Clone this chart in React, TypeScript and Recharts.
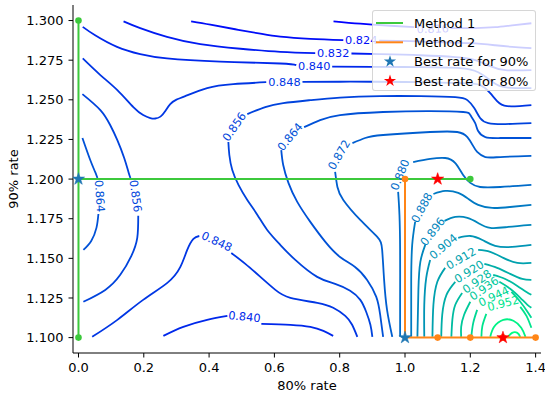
import { ComposedChart, Line, Scatter, XAxis, YAxis } from "recharts";

const X_DOMAIN = [-0.0168, 1.4165];
const Y_DOMAIN = [1.0903, 1.3098];
const X_TICKS = [0, 0.2, 0.4, 0.6, 0.8, 1.0, 1.2, 1.4];
const Y_TICKS = [1.1, 1.125, 1.15, 1.175, 1.2, 1.225, 1.25, 1.275, 1.3];
const LEVEL_MIN = 0.816;
const LEVEL_MAX = 0.968;

// contour pieces, [80% rate, 90% rate];
// a level is split where the label cuts its line
const c816 = [
  [[0.781, 1.2995], [0.863, 1.298], [0.955, 1.2967], [1.028, 1.2958]],
  [[1.139, 1.2952], [1.215, 1.2952], [1.276, 1.2958], [1.328, 1.297], [1.387, 1.2983]],
];
const c824 = [
  [[0.345, 1.2995], [0.404, 1.2974], [0.48, 1.2945], [0.557, 1.2917], [0.618, 1.2898], [0.71, 1.2884], [0.811, 1.2876]],
  [[0.921, 1.2873], [1.016, 1.287], [1.108, 1.2863], [1.2, 1.2857], [1.276, 1.2844], [1.338, 1.2832], [1.387, 1.2826]],
];
const c832 = [
  [[0.138, 1.2995], [0.189, 1.2952], [0.271, 1.2897], [0.373, 1.2851], [0.496, 1.2822], [0.618, 1.2802], [0.725, 1.2794]],
  [[0.836, 1.2792], [0.924, 1.2788], [1.047, 1.2781], [1.154, 1.2769], [1.215, 1.275], [1.261, 1.2712], [1.307, 1.2687], [1.387, 1.2687]],
];
const c840 = [
  [[0.013, 1.296], [0.051, 1.2907], [0.118, 1.2834], [0.189, 1.2788], [0.271, 1.2761], [0.434, 1.2741], [0.618, 1.2729], [0.667, 1.2719]],
  [[0.777, 1.2709], [0.9, 1.2708], [1.047, 1.2706], [1.169, 1.27], [1.224, 1.2674], [1.261, 1.2624], [1.292, 1.2586], [1.338, 1.2574], [1.387, 1.2574]],
  [[0.26, 1.1011], [0.321, 1.1068], [0.394, 1.1112], [0.456, 1.1137]],
  [[0.56, 1.1087], [0.649, 1.1081], [0.71, 1.1068], [0.75, 1.1043], [0.78, 1.1011]],
];
const c848 = [
  [[0.013, 1.2761], [0.067, 1.2656], [0.119, 1.2561], [0.168, 1.2454], [0.198, 1.2404], [0.22, 1.2385], [0.235, 1.2382], [0.251, 1.2394], [0.266, 1.2429], [0.281, 1.2473], [0.3, 1.2501], [0.327, 1.2523], [0.394, 1.2574], [0.474, 1.2599], [0.575, 1.2611]],
  [[0.686, 1.2613], [0.801, 1.2614], [0.9, 1.2614], [1.047, 1.2611], [1.169, 1.2605], [1.23, 1.2593], [1.261, 1.2542], [1.282, 1.2492], [1.313, 1.246], [1.387, 1.2467]],
  [[0.042, 1.1005], [0.119, 1.1112], [0.198, 1.1238], [0.272, 1.1345], [0.312, 1.1446], [0.333, 1.1553], [0.352, 1.1623], [0.37, 1.1641]],
  [[0.468, 1.1534], [0.511, 1.1465], [0.557, 1.1383], [0.603, 1.1301], [0.649, 1.1251], [0.731, 1.1219], [0.78, 1.1188], [0.817, 1.1137], [0.838, 1.1081], [0.854, 1.1005]],
];
const c856 = [
  [[0.012, 1.2536], [0.067, 1.2435], [0.097, 1.2341], [0.119, 1.2246], [0.14, 1.2133], [0.153, 1.2045], [0.159, 1.2007]],
  [[0.183, 1.1768], [0.18, 1.1629], [0.162, 1.1516], [0.128, 1.1396], [0.082, 1.1301], [0.015, 1.1226]],
  [[0.459, 1.2234], [0.462, 1.2152], [0.471, 1.2057], [0.49, 1.1963], [0.517, 1.1868], [0.548, 1.1774], [0.578, 1.1679], [0.618, 1.1585], [0.664, 1.149], [0.731, 1.1383], [0.786, 1.1339], [0.832, 1.1295], [0.863, 1.1238], [0.881, 1.1163], [0.894, 1.1081], [0.9, 1.1005]],
  [[0.517, 1.241], [0.572, 1.2454], [0.627, 1.2479], [0.71, 1.2498], [0.801, 1.2514], [0.924, 1.2523], [1.047, 1.2523], [1.154, 1.2517], [1.191, 1.2498], [1.212, 1.2448], [1.23, 1.2385], [1.255, 1.2353], [1.307, 1.2347], [1.387, 1.2353]],
];
const c864 = [
  [[0.012, 1.2259], [0.036, 1.212], [0.051, 1.2045], [0.058, 1.2007]],
  [[0.061, 1.178], [0.055, 1.1692], [0.039, 1.161], [0.015, 1.1553]],
  [[0.691, 1.2328], [0.74, 1.2372], [0.801, 1.2404], [0.933, 1.2423], [1.077, 1.2429], [1.178, 1.2423], [1.2, 1.2404], [1.215, 1.2353], [1.224, 1.2303], [1.246, 1.2265], [1.292, 1.2259], [1.387, 1.2259]],
  [[0.621, 1.2183], [0.627, 1.2089], [0.643, 1.1976], [0.67, 1.1856], [0.71, 1.173], [0.756, 1.1604], [0.801, 1.1509], [0.847, 1.1446], [0.884, 1.1364], [0.912, 1.1257], [0.924, 1.1144], [0.933, 1.1005]],
];
const c872 = [
  [[0.839, 1.2227], [0.878, 1.2259], [0.933, 1.2278], [1.077, 1.2297], [1.16, 1.2297], [1.191, 1.2265], [1.209, 1.2208], [1.221, 1.2171], [1.246, 1.2139], [1.292, 1.2139], [1.387, 1.2146]],
  [[0.786, 1.2045], [0.793, 1.195], [0.811, 1.1868], [0.863, 1.1742], [0.915, 1.1635], [0.93, 1.1553], [0.936, 1.1364], [0.945, 1.1175], [0.961, 1.1005]],
];
const c880 = [
  [[1.025, 1.2107], [1.077, 1.2127], [1.123, 1.2133], [1.154, 1.2101], [1.178, 1.2026], [1.2, 1.1976], [1.23, 1.195], [1.292, 1.195], [1.387, 1.1963]],
  [[0.979, 1.1919], [0.983, 1.1774], [0.985, 1.1553], [0.985, 1.1238], [0.985, 1.1005]],
];
const c888 = [
  [[1.087, 1.1906], [1.123, 1.1925], [1.163, 1.1913], [1.194, 1.1875], [1.224, 1.1837], [1.267, 1.1818], [1.322, 1.1824], [1.387, 1.1837]],
  [[1.031, 1.173], [1.022, 1.1585], [1.019, 1.1364], [1.019, 1.1005]],
];
const c896 = [
  [[1.121, 1.1736], [1.154, 1.1761], [1.191, 1.1755], [1.224, 1.1723], [1.261, 1.1692], [1.316, 1.1698], [1.387, 1.1711]],
  [[1.062, 1.1585], [1.047, 1.1478], [1.041, 1.1301], [1.038, 1.1005]],
];
const c904 = [
  [[1.163, 1.1629], [1.2, 1.1641], [1.237, 1.1616], [1.276, 1.1579], [1.328, 1.1572], [1.387, 1.1585]],
  [[1.077, 1.149], [1.065, 1.1377], [1.059, 1.1207], [1.059, 1.1005]],
];
const c912 = [
  [[1.224, 1.1553], [1.261, 1.1541], [1.301, 1.1503], [1.344, 1.1471], [1.387, 1.1471]],
  [[1.123, 1.144], [1.099, 1.1352], [1.087, 1.1207], [1.084, 1.1005]],
];
const c920 = [
  [[1.243, 1.1465], [1.282, 1.144], [1.322, 1.1402], [1.359, 1.137], [1.387, 1.1364]],
  [[1.154, 1.1352], [1.127, 1.127], [1.114, 1.1144], [1.111, 1.1005]],
];
const c928 = [
  [[1.27, 1.1396], [1.307, 1.137], [1.344, 1.1326], [1.372, 1.1288], [1.387, 1.127]],
  [[1.175, 1.1282], [1.154, 1.1207], [1.145, 1.1112], [1.142, 1.1005]],
];
const c936 = [
  [[1.289, 1.1352], [1.322, 1.1308], [1.353, 1.1251], [1.375, 1.1207], [1.387, 1.1188]],
  [[1.2, 1.1226], [1.181, 1.1144], [1.172, 1.1068], [1.172, 1.1005]],
];
const c944 = [
  [[1.326, 1.1288], [1.353, 1.1226], [1.375, 1.1163], [1.387, 1.1125]],
  [[1.221, 1.1175], [1.209, 1.1093], [1.203, 1.1005]],
];
const c952 = [
  [[1.353, 1.1194], [1.372, 1.1137], [1.387, 1.1062]],
  [[1.249, 1.115], [1.237, 1.1074], [1.234, 1.1005]],
];
const c960 = [
  [[1.261, 1.1005], [1.273, 1.1068], [1.301, 1.1112], [1.332, 1.1106], [1.356, 1.1062], [1.369, 1.1005]],
];
const c968 = [
  [[1.316, 1.1005], [1.328, 1.103], [1.344, 1.103], [1.353, 1.1005]],
];

const contours = [
  { level: 0.816, segs: c816 }, { level: 0.824, segs: c824 }, { level: 0.832, segs: c832 },
  { level: 0.84, segs: c840 }, { level: 0.848, segs: c848 }, { level: 0.856, segs: c856 },
  { level: 0.864, segs: c864 }, { level: 0.872, segs: c872 }, { level: 0.88, segs: c880 },
  { level: 0.888, segs: c888 }, { level: 0.896, segs: c896 }, { level: 0.904, segs: c904 },
  { level: 0.912, segs: c912 }, { level: 0.92, segs: c920 }, { level: 0.928, segs: c928 },
  { level: 0.936, segs: c936 }, { level: 0.944, segs: c944 }, { level: 0.952, segs: c952 },
  { level: 0.96, segs: c960 }, { level: 0.968, segs: c968 },
];

// inline contour labels: position, level, rotation
const contourLabels = [
  { x: 1.085, y: 1.2945, level: 0.816, angle: -2 },
  { x: 0.866, y: 1.2873, level: 0.824, angle: 0 },
  { x: 0.78, y: 1.2792, level: 0.832, angle: 0 },
  { x: 0.722, y: 1.2712, level: 0.84, angle: 0 },
  { x: 0.508, y: 1.1129, level: 0.84, angle: 6 },
  { x: 0.631, y: 1.2611, level: 0.848, angle: 0 },
  { x: 0.423, y: 1.1604, level: 0.848, angle: 25 },
  { x: 0.174, y: 1.1893, level: 0.856, angle: 82 },
  { x: 0.478, y: 1.2328, level: 0.856, angle: -55 },
  { x: 0.064, y: 1.1893, level: 0.864, angle: 86 },
  { x: 0.649, y: 1.2265, level: 0.864, angle: -50 },
  { x: 0.799, y: 1.2152, level: 0.872, angle: -60 },
  { x: 0.986, y: 1.2026, level: 0.88, angle: -68 },
  { x: 1.053, y: 1.1818, level: 0.888, angle: -62 },
  { x: 1.086, y: 1.1667, level: 0.896, angle: -52 },
  { x: 1.118, y: 1.1572, level: 0.904, angle: -40 },
  { x: 1.172, y: 1.1497, level: 0.912, angle: -30 },
  { x: 1.197, y: 1.1414, level: 0.92, angle: -32 },
  { x: 1.221, y: 1.1352, level: 0.928, angle: -35 },
  { x: 1.243, y: 1.1308, level: 0.936, angle: -35 },
  { x: 1.272, y: 1.1257, level: 0.944, angle: -25 },
  { x: 1.301, y: 1.1213, level: 0.952, angle: -14 },
];

const method1V = [{ x: 0, y: 1.1 }, { x: 0, y: 1.2 }, { x: 0, y: 1.3 }];
const method1H = [{ x: 0, y: 1.2 }, { x: 1.2, y: 1.2 }];
const method1Dots = [{ x: 0, y: 1.1 }, { x: 0, y: 1.3 }, { x: 1.2, y: 1.2 }];
const method2V = [{ x: 1.0, y: 1.1 }, { x: 1.0, y: 1.2 }];
const method2H = [{ x: 1.0, y: 1.1 }, { x: 1.4, y: 1.1 }];
const method2Dots = [{ x: 1.0, y: 1.2 }, { x: 1.1, y: 1.1 }, { x: 1.2, y: 1.1 }, { x: 1.3, y: 1.1 }, { x: 1.4, y: 1.1 }];
const best90 = [{ x: 0, y: 1.2 }, { x: 1.0, y: 1.1 }];
const best80 = [{ x: 1.1, y: 1.2 }, { x: 1.3, y: 1.1 }];

const GREEN = "#3cc93c";
const ORANGE = "#ff8517";
const BLUE = "#1f77b4";
const RED = "#ff0000";
const FONT = "DejaVu Sans, sans-serif";

// matplotlib "winter": blue -> spring green
function winter(level: number) {
  const t = (level - LEVEL_MIN) / (LEVEL_MAX - LEVEL_MIN);
  return `rgb(0, ${Math.round(255 * t)}, ${Math.round(255 - 127.5 * t)})`;
}

function starPoints(cx: number, cy: number, r: number) {
  const pts: string[] = [];
  for (let k = 0; k < 10; k++) {
    const a = ((-90 + 36 * k) * Math.PI) / 180;
    const rr = k % 2 === 0 ? r : r * 0.382;
    pts.push(`${cx + rr * Math.cos(a)},${cy + rr * Math.sin(a)}`);
  }
  return pts.join(" ");
}

const Star = (color: string) => (p: any) =>
  <polygon points={starPoints(p.cx, p.cy, 6.4)} fill={color} stroke={color} strokeWidth={0.6} />;

const Dot = (color: string) => (p: any) => <circle cx={p.cx} cy={p.cy} r={3.3} fill={color} />;

const ContourLabel = (p: any) => (
  <text
    x={p.cx}
    y={p.cy}
    transform={`rotate(${p.payload.angle} ${p.cx} ${p.cy})`}
    textAnchor="middle"
    dominantBaseline="central"
    fontSize={11.3}
    fontFamily={FONT}
    fill={winter(p.payload.level)}
  >
    {p.payload.level.toFixed(3)}
  </text>
);

const legendRows = [
  { name: "Method 1", kind: "line", color: GREEN },
  { name: "Method 2", kind: "line", color: ORANGE },
  { name: "Best rate for 90%", kind: "star", color: BLUE },
  { name: "Best rate for 80%", kind: "star", color: RED },
];

function LegendBox() {
  return (
    <div
      style={{
        position: "absolute", left: 372, top: 10, width: 164, height: 81,
        boxSizing: "border-box", background: "rgba(255,255,255,0.8)",
        border: "1px solid rgba(204,204,204,0.8)", borderRadius: 3,
      }}
    >
      <svg width={162} height={79} style={{ position: "absolute", left: 0, top: 0 }}>
        {legendRows.map((r, i) => {
          const cy = 12 + i * 19.3;
          return (
            <g key={r.name}>
              {r.kind === "line" ? (
                <line x1={3} x2={30} y1={cy} y2={cy} stroke={r.color} strokeWidth={2} />
              ) : (
                <polygon points={starPoints(17, cy, 6.4)} fill={r.color} />
              )}
              <text x={41} y={cy + 4.7} fontSize={13} fontFamily={FONT} fill="#000">{r.name}</text>
            </g>
          );
        })}
      </svg>
    </div>
  );
}

export default function App() {
  return (
    <div style={{ position: "absolute", left: 0, top: 0, width: 545, height: 399, background: "#fff", fontFamily: FONT }}>
      <ComposedChart width={545} height={399} margin={{ top: 5, right: 4, bottom: 16, left: 13 }}>
        <XAxis
          type="number" dataKey="x" domain={X_DOMAIN} allowDataOverflow ticks={X_TICKS} interval={0}
          tickFormatter={(v: number) => v.toFixed(1)} height={30}
          tick={{ fill: "#000", fontSize: 13, fontFamily: FONT }}
          tickSize={4.5} tickMargin={5.5}
          axisLine={{ stroke: "#000" }} tickLine={{ stroke: "#000" }}
          label={{ value: "80% rate", position: "insideBottom", offset: -7, fill: "#000", fontSize: 13, fontFamily: FONT }}
        />
        <XAxis xAxisId="top" orientation="top" type="number" domain={X_DOMAIN} height={0}
          tick={false} tickLine={false} axisLine={{ stroke: "#000" }} />
        <YAxis
          type="number" dataKey="y" domain={Y_DOMAIN} allowDataOverflow ticks={Y_TICKS} interval={0}
          tickFormatter={(v: number) => v.toFixed(3)} width={60}
          tick={{ fill: "#000", fontSize: 13, fontFamily: FONT }}
          tickSize={4.5} tickMargin={5}
          axisLine={{ stroke: "#000" }} tickLine={{ stroke: "#000" }}
          label={{ value: "90% rate", angle: -90, position: "insideLeft", offset: 0.5, fill: "#000", fontSize: 13, fontFamily: FONT, style: { textAnchor: "middle" } }}
        />
        <YAxis yAxisId="right" orientation="right" type="number" domain={Y_DOMAIN} width={0}
          tick={false} tickLine={false} axisLine={{ stroke: "#000" }} />

        {contours.flatMap((c, i) =>
          c.segs.map((s, j) => (
            <Line
              key={`c${i}-${j}`}
              data={s.map(([x, y]) => ({ x, y }))}
              dataKey="y"
              type="natural"
              stroke={winter(c.level)}
              strokeWidth={1.8}
              dot={false}
              activeDot={false}
              isAnimationActive={false}
            />
          ))
        )}
        <Scatter data={contourLabels} shape={ContourLabel} isAnimationActive={false} />

        <Line data={method1V} dataKey="y" type="linear" stroke={GREEN} strokeWidth={2} dot={false} activeDot={false} isAnimationActive={false} />
        <Line data={method1H} dataKey="y" type="linear" stroke={GREEN} strokeWidth={2} dot={false} activeDot={false} isAnimationActive={false} />
        <Scatter data={method1Dots} shape={Dot(GREEN)} isAnimationActive={false} />
        <Line data={method2V} dataKey="y" type="linear" stroke={ORANGE} strokeWidth={2} dot={false} activeDot={false} isAnimationActive={false} />
        <Line data={method2H} dataKey="y" type="linear" stroke={ORANGE} strokeWidth={2} dot={false} activeDot={false} isAnimationActive={false} />
        <Scatter data={method2Dots} shape={Dot(ORANGE)} isAnimationActive={false} />
        <Scatter data={best90} shape={Star(BLUE)} isAnimationActive={false} />
        <Scatter data={best80} shape={Star(RED)} isAnimationActive={false} />
      </ComposedChart>
      <LegendBox />
    </div>
  );
}
